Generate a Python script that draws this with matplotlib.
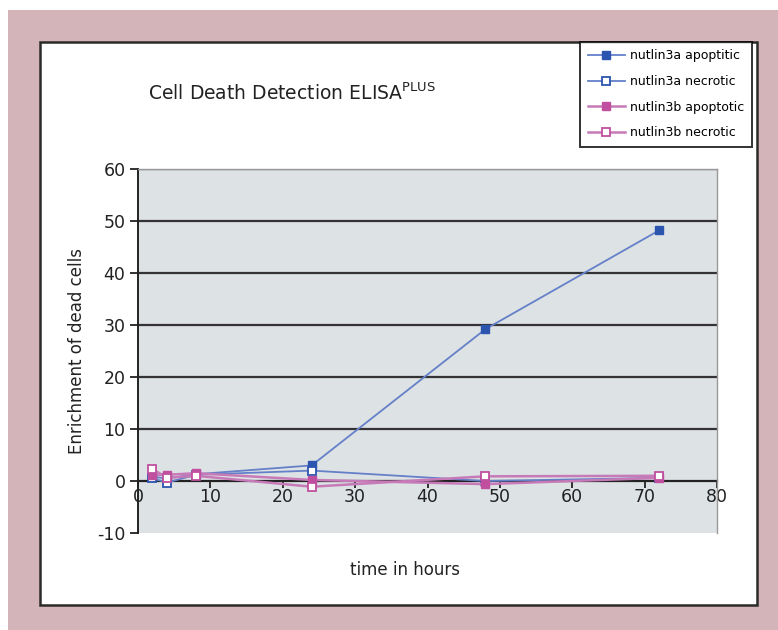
import matplotlib
matplotlib.use("Agg")
import matplotlib.pyplot as plt
from matplotlib.patches import Rectangle

HOURS = [2, 4, 8, 24, 48, 72]
A_APOPTOTIC = [0.8, 0.5, 1.3, 3.0, 29.2, 48.2]
A_NECROTIC = [0.5, -0.3, 1.2, 2.0, 0.0, 0.6]
B_APOPTOTIC = [1.2, 1.2, 1.5, 0.2, -0.6, 0.6]
B_NECROTIC = [2.3, 0.6, 1.0, -1.1, 0.9, 1.0]

X_TICKS = [0, 10, 20, 30, 40, 50, 60, 70, 80]
Y_TICKS = [-10, 0, 10, 20, 30, 40, 50, 60]

plt.rcParams["axes.unicode_minus"] = False

W, H = 778, 630
fig = plt.figure(figsize=(W / 100, H / 100), dpi=100)
fig.patch.set_facecolor("white")

# pink frame and white card behind the chart
fig.patches.append(Rectangle((8 / W, 0), 1 - 8 / W, 1 - 10 / H, transform=fig.transFigure,
                             facecolor="#d3b5b9", edgecolor="none", zorder=-3))
fig.patches.append(Rectangle((40 / W, 1 - 605 / H), 717 / W, (605 - 42) / H,
                             transform=fig.transFigure, facecolor="white",
                             edgecolor="#2a2a2a", linewidth=1.8, zorder=-2))

ax = fig.add_axes([138 / W, 1 - 533 / H, (717 - 138) / W, (533 - 169) / H])
ax.set_facecolor("#dde2e5")

blue_line, blue_mark = "#6580c8", "#2c55b0"
pink_line, pink_mark = "#c77ab8", "#c0509f"

ax.plot(HOURS, A_APOPTOTIC, "-s", color=blue_line, mfc=blue_mark, mec=blue_mark,
        ms=6, lw=1.3, label="nutlin3a apoptitic", zorder=4)
ax.plot(HOURS, A_NECROTIC, "-s", color=blue_line, mfc="white", mec=blue_mark,
        ms=6, mew=1.3, lw=1.3, label="nutlin3a necrotic", zorder=4)
ax.plot(HOURS, B_APOPTOTIC, "-s", color=pink_line, mfc=pink_mark, mec=pink_mark,
        ms=6, lw=1.8, label="nutlin3b apoptotic", zorder=5)
ax.plot(HOURS, B_NECROTIC, "-s", color=pink_line, mfc="white", mec=pink_mark,
        ms=6, mew=1.3, lw=1.8, label="nutlin3b necrotic", zorder=5)

ax.set_xlim(0, 80)
ax.set_ylim(-10, 60)
ax.set_xticks(X_TICKS)
ax.set_yticks(Y_TICKS)
for y in Y_TICKS[2:]:
    ax.axhline(y, color="#333333", lw=1.6, zorder=1)

for side in ("top", "right"):
    ax.spines[side].set_color("#999999")
    ax.spines[side].set_linewidth(1.0)
ax.spines["left"].set_color("#222222")
ax.spines["left"].set_linewidth(1.4)
ax.spines["bottom"].set_position(("data", 0))
ax.spines["bottom"].set_color("#222222")
ax.spines["bottom"].set_linewidth(1.6)
ax.spines["bottom"].set_zorder(2)

ax.tick_params(axis="y", direction="out", length=6, width=1.3, labelsize=12.5,
               colors="#222222", pad=3)
ax.tick_params(axis="x", direction="out", length=5, width=1.3, labelsize=12.5,
               colors="#222222", pad=0)

ax.set_ylabel("Enrichment of dead cells", fontsize=12, color="#222222", labelpad=8)
fig.text(405 / W, 1 - 570 / H, "time in hours", fontsize=12, color="#222222",
         ha="center", va="center")
fig.text(292 / W, 1 - 93 / H, r"Cell Death Detection ELISA$^{\mathrm{PLUS}}$",
         fontsize=13.5, color="#222222", ha="center", va="center")

leg = fig.legend(loc="upper left", bbox_to_anchor=(580 / W, 1 - 42 / H),
                 borderaxespad=0, fontsize=9, frameon=True, fancybox=False,
                 handlelength=3.0, borderpad=0.6, labelspacing=1.0, handletextpad=0.4)
leg.get_frame().set_edgecolor("black")
leg.get_frame().set_linewidth(1.4)

fig.savefig("out.png", dpi=100)
